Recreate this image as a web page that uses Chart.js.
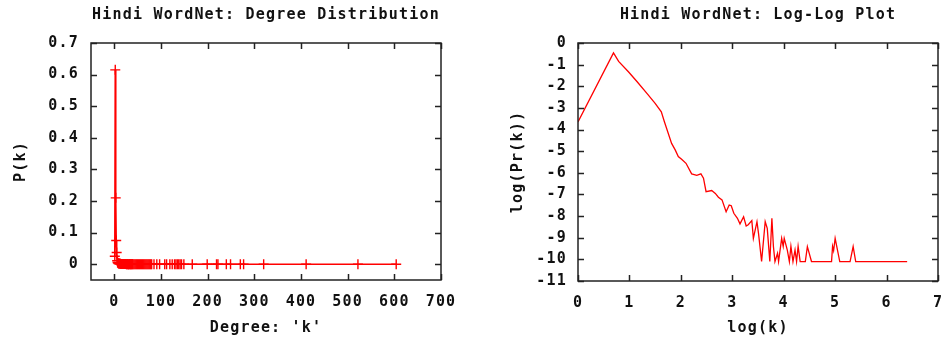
<!DOCTYPE html>
<html>
<head>
<meta charset="utf-8">
<script src="https://cdn.jsdelivr.net/npm/chart.js@4/dist/chart.umd.min.js"></script>
<style>
  html, body { margin: 0; padding: 0; background: #ffffff; }
  #wrap { display: flex; width: 941px; height: 341px; }
  canvas { display: block; }
</style>
</head>
<body>
<div id="wrap">
  <canvas id="left" width="470" height="341"></canvas>
  <canvas id="right" width="471" height="341"></canvas>
</div>
<script>
// ---------- Data ----------
const leftTitle = 'Hindi WordNet: Degree Distribution';
const rightTitle = 'Hindi WordNet: Log-Log Plot';

// Degree distribution: degree k and probability P(k)
const degreeK = [1, 2, 3, 4, 5, 6, 7, 8, 9, 10, 11, 12, 13, 14, 15, 16, 17, 18, 19, 20,
  21, 22, 23, 24, 25, 26, 27, 28, 29, 30, 31, 32, 33, 34, 35, 36, 37, 38, 39, 40,
  42, 44, 46, 48, 50, 52, 54, 56, 58, 60, 62, 64, 66, 68, 70, 72, 74, 76, 78, 80,
  85, 91, 97, 108, 112, 119, 124, 129, 132, 135, 138, 141, 144, 149, 167, 199,
  219, 222, 240, 249, 270, 277, 320, 411, 522, 604];
const degreeP = [0.025, 0.615, 0.21, 0.075, 0.037, 0.011, 0.0053, 0.0041, 0.0024, 0.0022,
  0.0024, 0.0011, 0.0011, 0.0010, 0.0008, 0.0007, 0.00055, 0.0004, 0.00055, 0.0005,
  0.0004, 0.0003, 0.00025, 0.00027, 0.0003, 0.00022, 0.0002, 0.00025, 0.00016, 0.00012,
  0.00015, 0.00012, 0.00026, 0.00008, 0.00012, 0.00004, 0.00016, 0.00026, 0.00008, 0.00004,
  0.00008, 0.00012, 0.00004, 0.00008, 0.00004, 0.00008, 0.00004, 0.00004, 0.00004, 0.00008,
  0.00004, 0.00004, 0.00008, 0.00004, 0.00004, 0.00004, 0.00008, 0.00004, 0.00004, 0.00004,
  0.00004, 0.00004, 0.00004, 0.00004, 0.00004, 0.00004, 0.00004, 0.00004, 0.00008, 0.00012,
  0.00008, 0.00004, 0.00004, 0.00004, 0.00004, 0.00008, 0.00004, 0.00004, 0.00004, 0.00004,
  0.00004, 0.00004, 0.00004, 0.00004, 0.00004, 0.00004];

// Log-log plot: log(k) and log(Pr(k))
const logK = [0.00, 0.69, 0.79, 0.98, 1.15, 1.34, 1.50, 1.62, 1.68, 1.82, 1.89, 1.95, 2.02, 2.10,
  2.21, 2.31, 2.39, 2.44, 2.49, 2.60, 2.67, 2.73, 2.80, 2.88, 2.94, 2.98, 3.03, 3.10, 3.15,
  3.22, 3.27, 3.31, 3.38, 3.41, 3.48, 3.51, 3.57, 3.64, 3.68, 3.73, 3.77, 3.80, 3.83, 3.88,
  3.90, 3.96, 3.99, 4.01, 4.07, 4.11, 4.14, 4.18, 4.22, 4.25, 4.28, 4.32, 4.42, 4.46, 4.54,
  4.93, 4.95, 4.97, 5.00, 5.09, 5.29, 5.35, 5.40, 6.40];
const logP = [-3.65, -0.46, -0.85, -1.33, -1.79, -2.33, -2.79, -3.18, -3.64, -4.64, -4.94, -5.25, -5.38, -5.56,
  -6.05, -6.12, -6.05, -6.25, -6.87, -6.82, -6.95, -7.13, -7.25, -7.80, -7.49, -7.52, -7.87, -8.10, -8.36,
  -8.03, -8.46, -8.40, -8.21, -9.03, -8.26, -8.80, -10.1, -8.26, -8.57, -10.1, -8.10, -9.41, -10.1, -9.72,
  -10.1, -9.03, -9.40, -9.03, -9.57, -10.1, -9.40, -10.1, -9.57, -10.1, -9.40, -10.1, -10.1, -9.41, -10.1,
  -10.1, -9.40, -9.60, -9.03, -10.1, -10.1, -9.41, -10.1, -10.1];

// Axis tick settings
const leftXTicks = { min: -50, max: 700, step: 100 };
const leftYTicks = { min: -0.05, max: 0.7, step: 0.1 };
const rightXTicks = { min: 0, max: 7, step: 1 };
const rightYTicks = { min: -11, max: 0, step: 1 };

// ---------- Styling ----------
const FONT = { family: '"DejaVu Sans Mono", "Liberation Mono", monospace', size: 15, weight: 'bold', lineHeight: 1.2 };
const INK = '#111111';
const RED = '#ff0000';
Chart.defaults.color = INK;
Chart.defaults.font = { ...FONT };

const spacing = {
  id: 'spacing',
  beforeLayout(chart) { chart.ctx.letterSpacing = '1.2px'; },
  afterLayout(chart) {
    // centre the title over the plot area, as in the reference
    const tb = chart.titleBlock;
    if (tb) { tb.left = chart.chartArea.left; tb.right = chart.chartArea.right; }
  },
  beforeDraw(chart) { chart.ctx.letterSpacing = '1.2px'; }
};

const frame = {
  id: 'frame',
  afterDatasetsDraw(chart) {
    const { ctx, chartArea: a, scales: { x, y } } = chart;
    const L = 6;
    ctx.save();
    ctx.strokeStyle = '#222222';
    ctx.lineWidth = 1.5;
    ctx.beginPath();
    x.ticks.forEach(t => {
      const px = Math.round(x.getPixelForValue(t.value)) + 0.5;
      ctx.moveTo(px, a.bottom); ctx.lineTo(px, a.bottom - L);
      ctx.moveTo(px, a.top); ctx.lineTo(px, a.top + L);
    });
    y.ticks.forEach(t => {
      const py = Math.round(y.getPixelForValue(t.value)) + 0.5;
      ctx.moveTo(a.left, py); ctx.lineTo(a.left + L, py);
      ctx.moveTo(a.right, py); ctx.lineTo(a.right - L, py);
    });
    ctx.stroke();
    ctx.strokeRect(a.left, a.top, a.right - a.left, a.bottom - a.top);
    ctx.restore();
  }
};

function fitW(w) { return s => { s.width = w; s.paddingTop = 0; s.paddingBottom = 0; }; }
function fitH(h) { return s => { s.height = h; s.paddingLeft = 0; s.paddingRight = 0; }; }

function makeChart(id, cfg) {
  const xs = cfg.xs.map((v, i) => ({ x: v, y: cfg.ys[i] }));
  return new Chart(document.getElementById(id), {
    type: 'scatter',
    data: {
      datasets: [{
        data: xs,
        showLine: true,
        borderColor: RED,
        backgroundColor: RED,
        borderWidth: cfg.lineWidth,
        pointStyle: 'cross',
        pointRadius: cfg.pointRadius,
        pointHoverRadius: cfg.pointRadius,
        pointBorderWidth: 1.4,
        pointBorderColor: RED,
        tension: 0
      }]
    },
    options: {
      responsive: false,
      animation: false,
      devicePixelRatio: 1,
      layout: { padding: { left: 0, right: cfg.padRight, top: 0, bottom: 0 } },
      plugins: {
        legend: { display: false },
        tooltip: { enabled: false },
        title: {
          display: true,
          text: cfg.title,
          color: INK,
          font: { ...FONT },
          padding: { top: 6, bottom: 19 }
        }
      },
      scales: {
        x: {
          type: 'linear',
          position: 'bottom',
          min: cfg.xt.min, max: cfg.xt.max,
          afterFit: fitH(cfg.xh),
          grid: { display: false, drawTicks: false },
          border: { display: false },
          ticks: {
            stepSize: cfg.xt.step,
            includeBounds: false,
            padding: 13,
            maxRotation: 0,
            autoSkip: false,
            color: INK,
            font: { ...FONT },
            callback: v => String(Math.round(v * 10) / 10)
          },
          title: { display: true, text: cfg.xTitle, color: INK, font: { ...FONT }, padding: { top: 0, bottom: 4 } }
        },
        y: {
          type: 'linear',
          position: 'left',
          min: cfg.yt.min, max: cfg.yt.max,
          afterFit: fitW(cfg.yw),
          grid: { display: false, drawTicks: false },
          border: { display: false },
          ticks: {
            stepSize: cfg.yt.step,
            includeBounds: false,
            padding: cfg.ytPad,
            autoSkip: false,
            color: INK,
            font: { ...FONT },
            callback: cfg.yFmt
          },
          title: { display: true, text: cfg.yTitle, color: INK, font: { ...FONT }, padding: { top: cfg.yTitlePad, bottom: 0 } }
        }
      }
    },
    plugins: [spacing, frame]
  });
}

makeChart('left', {
  xs: degreeK, ys: degreeP,
  title: leftTitle, xTitle: "Degree: 'k'", yTitle: 'P(k)',
  xt: leftXTicks, yt: leftYTicks,
  padRight: 29, xh: 61, yw: 91, ytPad: 12, yTitlePad: 12,
  lineWidth: 1.6, pointRadius: 5,
  yFmt: v => (Math.abs(v) < 1e-9 ? '0' : v.toFixed(1))
});

makeChart('right', {
  xs: logK, ys: logP,
  title: rightTitle, xTitle: 'log(k)', yTitle: 'log(Pr(k))',
  xt: rightXTicks, yt: rightYTicks,
  padRight: 3, xh: 60, yw: 108, ytPad: 11, yTitlePad: 39,
  lineWidth: 1.3, pointRadius: 0,
  yFmt: v => String(Math.round(v))
});
</script>
</body>
</html>
